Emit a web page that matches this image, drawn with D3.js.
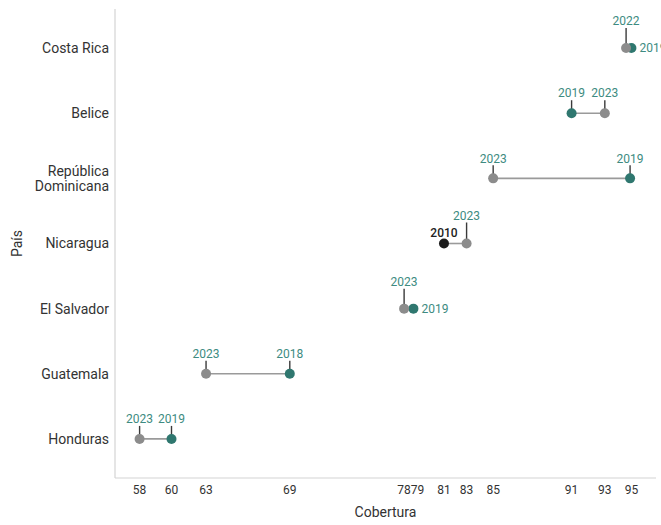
<!DOCTYPE html>
<html>
<head>
<meta charset="utf-8">
<script src="https://cdn.jsdelivr.net/npm/d3@7"></script>
<style>
  html, body { margin: 0; padding: 0; background: #fff; }
  text { font-family: Roboto, "Noto Sans", sans-serif; }
</style>
</head>
<body>
<svg id="chart" width="661" height="525"></svg>
<script>
// ---- data ----
const countries = ["Costa Rica", "Belice", "República Dominicana", "Nicaragua", "El Salvador", "Guatemala", "Honduras"];
const recentYears = [2022, 2023, 2023, 2023, 2023, 2023, 2023];
const recentValues = [94.6, 93.0, 84.6, 82.6, 77.9, 63.0, 58.0];
const pastYears = [2019, 2019, 2019, 2010, 2019, 2018, 2019];
const pastValues = [95.0, 90.5, 94.9, 80.9, 78.6, 69.3, 60.4];
const tickLabels = ["58", "60", "63", "69", "78", "79", "81", "83", "85", "91", "93", "95"];
const xTitle = "Cobertura";
const yTitle = "País";

(function () {
// ---- styles ----
const mLeft = 115, mRight = 656, mTop = 9, mBottom = 478;
const colGray = "#8c8c8c", colTeal = "#2f776f", colBlack = "#1c1c1c";
const labTeal = "#3d8b81";
function dotColor(year) { return year >= 2022 ? colGray : (year <= 2010 ? colBlack : colTeal); }
function labColor(year) { return year <= 2010 ? "#222" : labTeal; }

const svg = d3.select("#chart");

const allVals = recentValues.concat(pastValues);
const mn = d3.min(allVals), mx = d3.max(allVals), pad = (mx - mn) * 0.05;
const x = d3.scaleLinear().domain([mn - pad, mx + pad]).range([mLeft, mRight]);
const y = d3.scalePoint().domain(countries).range([mTop, mBottom]).padding(0.6);

// axes lines
svg.append("line").attr("x1", mLeft).attr("x2", mLeft).attr("y1", mTop).attr("y2", mBottom)
  .attr("stroke", "#d4d4d4").attr("stroke-width", 1.2);
svg.append("line").attr("x1", mLeft).attr("x2", mRight).attr("y1", mBottom).attr("y2", mBottom)
  .attr("stroke", "#d4d4d4").attr("stroke-width", 1.2);

// x tick labels: one per rounded label, at the largest value with that label
const tickPos = tickLabels.map(lb => {
  const vs = allVals.filter(v => String(Math.round(v)) === lb);
  return { label: lb, x: x(d3.max(vs)) };
}).sort((a, b) => a.x - b.x);
for (let i = 1; i < tickPos.length; i++) {
  if (tickPos[i].x - tickPos[i - 1].x < 13) tickPos[i].x = tickPos[i - 1].x + 13.5;
}
svg.append("g").selectAll("text").data(tickPos).join("text")
  .attr("x", d => d.x).attr("y", mBottom + 16)
  .attr("text-anchor", "middle").attr("font-size", 12).attr("fill", "#333")
  .text(d => d.label);

// country labels
const yLab = svg.append("g");
countries.forEach(c => {
  const words = c === "República Dominicana" ? ["República", "Dominicana"] : [c];
  const t = yLab.append("text").attr("x", mLeft - 6).attr("y", y(c))
    .attr("text-anchor", "end").attr("font-size", 14).attr("fill", "#333");
  words.forEach((w, i) => {
    t.append("tspan").attr("x", mLeft - 6)
      .attr("dy", i === 0 ? (words.length === 1 ? "0.35em" : (0.35 - 0.55) + "em") : "1.1em")
      .text(w);
  });
});

// titles
svg.append("text").attr("x", (mLeft + mRight) / 2).attr("y", 517)
  .attr("text-anchor", "middle").attr("font-size", 14).attr("fill", "#333").text(xTitle);
svg.append("text").attr("transform", `translate(22,${(mTop + mBottom) / 2}) rotate(-90)`)
  .attr("text-anchor", "middle").attr("font-size", 14).attr("fill", "#333").text(yTitle);

// rows
const rows = countries.map((c, i) => ({
  c, y: y(c),
  pts: [
    { year: recentYears[i], v: recentValues[i], x: x(recentValues[i]) },
    { year: pastYears[i], v: pastValues[i], x: x(pastValues[i]) }
  ]
}));

const g = svg.append("g");
// connectors
g.selectAll("line.conn").data(rows).join("line").attr("class", "conn")
  .attr("x1", d => d.pts[0].x).attr("x2", d => d.pts[1].x)
  .attr("y1", d => d.y).attr("y2", d => d.y)
  .attr("stroke", "#9a9a9a").attr("stroke-width", 1.6);

// label placement
const labels = [];
rows.forEach(r => {
  const [a, b] = r.pts[0].x <= r.pts[1].x ? [r.pts[0], r.pts[1]] : [r.pts[1], r.pts[0]];
  const dx = b.x - a.x;
  if (dx < 12) {
    labels.push({ p: a, y: r.y, ly: r.y - 27, lx: a.x, anchor: "middle", stem: true });
    labels.push({ p: b, y: r.y, ly: r.y, lx: b.x + 8, anchor: "start", stem: false });
  } else if (dx < 30) {
    labels.push({ p: a, y: r.y, ly: r.y - 11, lx: a.x, anchor: "middle", stem: false });
    labels.push({ p: b, y: r.y, ly: r.y - 28, lx: b.x, anchor: "middle", stem: true });
  } else {
    labels.push({ p: a, y: r.y, ly: r.y - 20, lx: a.x, anchor: "middle", stem: true });
    labels.push({ p: b, y: r.y, ly: r.y - 20, lx: b.x, anchor: "middle", stem: true });
  }
});

// stems
g.selectAll("line.stem").data(labels.filter(l => l.stem)).join("line").attr("class", "stem")
  .attr("x1", d => d.p.x).attr("x2", d => d.p.x)
  .attr("y1", d => d.y).attr("y2", d => d.ly + 7)
  .attr("stroke", "#3a3a3a").attr("stroke-width", 1.4);

// dots (teal/black first, gray on top)
const dots = [];
rows.forEach(r => { dots.push({ ...r.pts[1], y: r.y }); });
rows.forEach(r => { dots.push({ ...r.pts[0], y: r.y }); });
g.selectAll("circle").data(dots).join("circle")
  .attr("cx", d => d.x).attr("cy", d => d.y).attr("r", 5)
  .attr("fill", d => dotColor(d.year));

// year labels
g.selectAll("text.yl").data(labels).join("text").attr("class", "yl")
  .attr("x", d => d.lx).attr("y", d => d.ly).attr("dy", "0.35em")
  .attr("text-anchor", d => d.anchor).attr("font-size", 12)
  .attr("font-weight", d => d.p.year <= 2010 ? 500 : 400)
  .attr("fill", d => labColor(d.p.year)).text(d => d.p.year);
})();
</script>
</body>
</html>
